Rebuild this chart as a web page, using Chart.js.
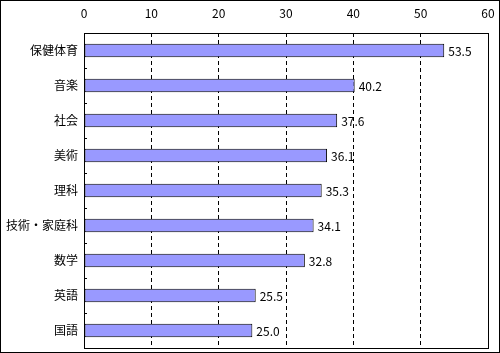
<!DOCTYPE html>
<html>
<head>
<meta charset="utf-8">
<script src="https://cdn.jsdelivr.net/npm/chart.js@4"></script>
<style>
  body { margin: 0; background: #fff; }
  #wrap { width: 500px; height: 353px; }
</style>
</head>
<body>
<div id="wrap"><canvas id="subjectChart" width="500" height="353"></canvas></div>
<script>
// data
const subjects = ['保健体育', '音楽', '社会', '美術', '理科', '技術・家庭科', '数学', '英語', '国語'];
const scores = [53.5, 40.2, 37.6, 36.1, 35.3, 34.1, 32.8, 25.5, 25.0];
const xTicks = [0, 10, 20, 30, 40, 50, 60];

const FONT = "'Noto Sans CJK JP', 'DejaVu Sans', sans-serif";

// white background, plot frame, small category ticks, outer frame
const framePlugin = {
    id: 'frame',
    beforeDraw(chart) {
        const c = chart.ctx;
        c.save();
        c.fillStyle = '#fff';
        c.fillRect(0, 0, chart.width, chart.height);
        c.restore();
    },
    beforeDatasetsDraw(chart) {
        const c = chart.ctx;
        const a = chart.chartArea;
        const y = chart.scales.y;
        c.save();
        c.strokeStyle = '#000';
        c.lineWidth = 1;
        c.setLineDash([]);
        c.strokeRect(Math.round(a.left) + 0.5, Math.round(a.top) + 0.5,
            Math.round(a.right - a.left), Math.round(a.bottom - a.top));
        const half = (y.getPixelForValue(1) - y.getPixelForValue(0)) / 2;
        for (let i = 1; i < subjects.length; i++) {
            const py = Math.round(y.getPixelForValue(i) - half) + 0.5;
            c.beginPath();
            c.moveTo(a.left, py);
            c.lineTo(a.left + 3, py);
            c.stroke();
        }
        c.restore();
    },
    afterDraw(chart) {
        const c = chart.ctx;
        c.save();
        c.strokeStyle = '#000';
        c.lineWidth = 1;
        c.strokeRect(0.5, 0.5, chart.width - 1, chart.height - 1);
        c.restore();
    }
};

// value labels to the right of each bar
const valueLabels = {
    id: 'valueLabels',
    afterDatasetsDraw(chart) {
        const c = chart.ctx;
        const meta = chart.getDatasetMeta(0);
        c.save();
        c.font = '12px ' + FONT;
        c.fillStyle = '#000';
        c.textAlign = 'left';
        c.textBaseline = 'middle';
        meta.data.forEach((bar, i) => {
            c.fillText(scores[i].toFixed(1), bar.x + 4, bar.y + 1);
        });
        c.restore();
    }
};

new Chart(document.getElementById('subjectChart'), {
    type: 'bar',
    data: {
        labels: subjects,
        datasets: [{
            data: scores,
            backgroundColor: '#9999ff',
            borderColor: '#000',
            borderWidth: 1,
            borderSkipped: false,
            barPercentage: 0.38,
            categoryPercentage: 1
        }]
    },
    options: {
        indexAxis: 'y',
        responsive: false,
        animation: false,
        layout: { padding: { left: 0, right: 12, top: 0, bottom: 5 } },
        plugins: {
            legend: { display: false },
            tooltip: { enabled: false }
        },
        scales: {
            x: {
                position: 'top',
                min: 0,
                max: 60,
                afterBuildTicks: (s) => { s.ticks = xTicks.map(v => ({ value: v })); },
                afterFit: (s) => {
                    s.height = 33;
                    s.paddingLeft = 0; s.paddingRight = 0;
                },
                grid: { color: '#000', drawTicks: false },
                border: { display: false, dash: [4, 3] },
                ticks: {
                    color: '#000',
                    font: { family: FONT, size: 12 },
                    padding: 12,
                    maxRotation: 0
                }
            },
            y: {
                afterFit: (s) => {
                    s.width = 84;
                    s.paddingTop = 0; s.paddingBottom = 0;
                },
                grid: { display: false, drawTicks: false },
                border: { display: false },
                ticks: {
                    color: '#000',
                    font: { family: FONT, size: 12 },
                    padding: 6
                }
            }
        }
    },
    plugins: [framePlugin, valueLabels]
});
</script>
</body>
</html>
